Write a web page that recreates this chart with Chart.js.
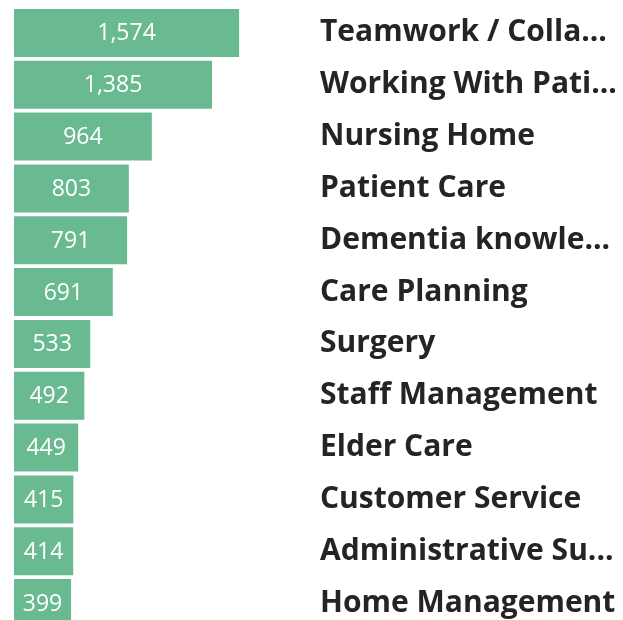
<!DOCTYPE html>
<html>
<head>
<meta charset="utf-8">
<script src="https://cdn.jsdelivr.net/npm/chart.js@4"></script>
<style>
  html, body { margin: 0; padding: 0; overflow: hidden; background: #fff; }
  #wrap { width: 623px; height: 632px; }
</style>
</head>
<body>
<div id="wrap"><canvas id="myChart"></canvas></div>
<script>
// skills and counts
const skills = [
  'Teamwork / Colla...',
  'Working With Pati...',
  'Nursing Home',
  'Patient Care',
  'Dementia knowle...',
  'Care Planning',
  'Surgery',
  'Staff Management',
  'Elder Care',
  'Customer Service',
  'Administrative Su...',
  'Home Management'
];
const counts = [1574, 1385, 964, 803, 791, 691, 533, 492, 449, 415, 414, 399];

const barColor = '#6aba91';
const textColor = '#252423';

// draws the count in the middle of each bar
const valueLabels = {
  id: 'valueLabels',
  afterDatasetsDraw(chart) {
    const c = chart.ctx;
    const meta = chart.getDatasetMeta(0);
    c.save();
    c.font = '23px "Open Sans", "Noto Sans", sans-serif';
    c.fillStyle = '#ffffff';
    c.textAlign = 'center';
    c.textBaseline = 'middle';
    meta.data.forEach((bar, i) => {
      const cx = (bar.x + bar.base) / 2;
      c.fillText(counts[i].toLocaleString('en-US'), cx, bar.y + 1);
    });
    c.restore();
  }
};

let ctx = document.getElementById('myChart');
document.myChart = new Chart(ctx, {
  type: 'bar',
  data: {
    labels: skills,
    datasets: [{
      data: counts,
      backgroundColor: barColor,
      borderWidth: 0,
      barPercentage: 1,
      categoryPercentage: 0.925
    }]
  },
  options: {
    indexAxis: 'y',
    responsive: true,
    maintainAspectRatio: false,
    animation: false,
    layout: {
      padding: { left: 14, right: 0, top: 7, bottom: 3 }
    },
    scales: {
      x: {
        display: false,
        min: 0,
        max: 2070
      },
      y: {
        position: 'right',
        grid: { display: false, drawTicks: false },
        border: { display: false },
        afterFit: function(scale) {
          scale.width = 313;
          scale.paddingTop = 0;
          scale.paddingBottom = 0;
        },
        ticks: {
          padding: 10,
          color: textColor,
          font: { family: '"Open Sans", "Noto Sans", sans-serif', size: 30, weight: 'bold' }
        }
      }
    },
    plugins: {
      legend: { display: false },
      tooltip: { enabled: false }
    }
  },
  plugins: [valueLabels]
});
</script>
</body>
</html>
